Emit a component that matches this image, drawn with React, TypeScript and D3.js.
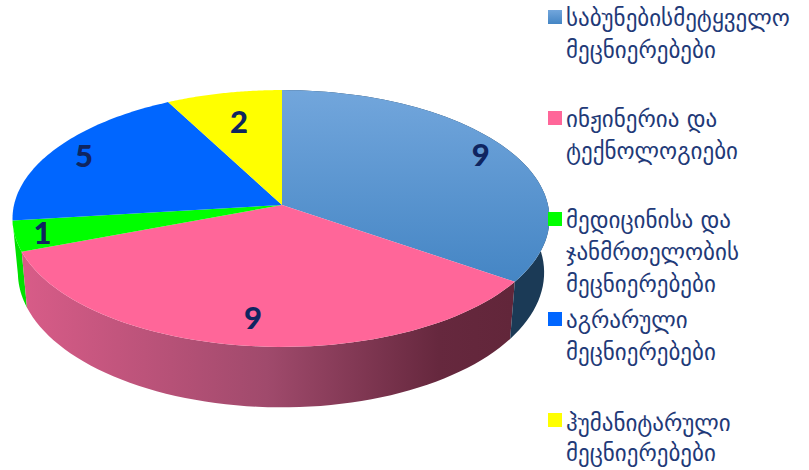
import React from "react";
import * as d3 from "d3";

const categories = ["საბუნებისმეტყველო მეცნიერებები", "ინჟინერია და ტექნოლოგიები", "მედიცინისა და ჯანმრთელობის მეცნიერებები", "აგრარული მეცნიერებები", "ჰუმანიტარული მეცნიერებები"];
const legendLines = [
  ["საბუნებისმეტყველო", "მეცნიერებები"],
  ["ინჟინერია და", "ტექნოლოგიები"],
  ["მედიცინისა და", "ჯანმრთელობის", "მეცნიერებები"],
  ["აგრარული", "მეცნიერებები"],
  ["ჰუმანიტარული", "მეცნიერებები"],
];
const values = [9, 9, 1, 5, 2];
const topFills = ["url(#topBlue)", "#ff6699", "#00ff00", "#0066ff", "#ffff00"];
const legendFills = ["url(#legBlue)", "#ff6699", "#00ff00", "#0066ff", "#ffff00"];
const wallFills = ["#1b3a56", "url(#wallPink)", "#00e000"];
const labelRadii = [0.88, 0.82, 0.9, 0.87, 0.72];
const legendTops = [10, 111, 212, 312, 413];
const legendTextOffsets = [16, 16, 16, 16, 18];
const legendSteps = [32, 32, 32, 32, 30];

const W = 809, H = 470;
const apexX = 282, apexY = 205, rxRight = 266, rxLeft = 268, ry = 127, persp = 0.105;
const midY = 218, wallScaleX = 0.98, wallScaleY = 1.05, wallDrop = 54;

function top(theta: number, r = 1): [number, number] {
  const sx = Math.sin(theta) * r, sy = -Math.cos(theta) * r;
  const w = 1 - persp * sy;
  return [apexX + ((sx < 0 ? rxLeft : rxRight) * sx) / w, apexY + (ry * sy) / w];
}
function bottom(theta: number): [number, number] {
  const [x, y] = top(theta);
  return [apexX + (x - apexX) * wallScaleX, midY + (y - midY) * wallScaleY + wallDrop];
}
const line = d3.line();
const sweep = (a: number, b: number) => d3.range(0, 61).map((i) => a + ((b - a) * i) / 60);

export default function App() {
  const arcs = d3.pie<number>().sort(null).value((d) => d)(values);
  return (
    <svg width={W} height={H} style={{ position: "absolute", left: 0, top: 0, background: "#fff" }}>
      <defs>
        <linearGradient id="topBlue" gradientUnits="userSpaceOnUse" x1="0" y1="90" x2="0" y2="285">
          <stop offset="0" stopColor="#72a6dc" />
          <stop offset="1" stopColor="#4485c4" />
        </linearGradient>
        <linearGradient id="legBlue" x1="0" y1="0" x2="0" y2="1">
          <stop offset="0" stopColor="#72a6dc" />
          <stop offset="1" stopColor="#4485c4" />
        </linearGradient>
        <linearGradient id="wallPink" gradientUnits="userSpaceOnUse" x1="22" y1="0" x2="512" y2="0">
          <stop offset="0" stopColor="#d85c88" />
          <stop offset="0.5" stopColor="#a04a6c" />
          <stop offset="0.85" stopColor="#66283e" />
          <stop offset="1" stopColor="#62263a" />
        </linearGradient>
      </defs>
      {arcs.slice(0, 3).reverse().map((a) => {
        const t = sweep(a.startAngle, a.endAngle);
        const pts = [...t.map((v) => top(v)), ...t.slice().reverse().map((v) => bottom(v))];
        return <path key={a.index} d={line(pts) + "Z"} fill={wallFills[a.index]} />;
      })}
      {arcs.map((a) => {
        const pts: [number, number][] = [[apexX, apexY], ...sweep(a.startAngle, a.endAngle).map((v) => top(v))];
        return <path key={a.index} d={line(pts) + "Z"} fill={topFills[a.index]} />;
      })}
      {arcs.map((a) => {
        const [x, y] = top((a.startAngle + a.endAngle) / 2, labelRadii[a.index]);
        return (
          <text key={a.index} x={x} y={y} dy="0.36em" textAnchor="middle" fontFamily="Lato, sans-serif" fontWeight="900" fontSize={31} fill="#0f2560">
            {values[a.index]}
          </text>
        );
      })}
      {categories.map((c, i) => (
        <g key={c}>
          <rect x={548} y={legendTops[i]} width={14} height={14} fill={legendFills[i]} />
          {legendLines[i].map((l, j) => (
            <text key={j} x={566} y={legendTops[i] + legendTextOffsets[i] + j * legendSteps[i]} fontFamily="'DejaVu Sans', sans-serif" fontSize={23} fill="#1f3a78">
              {l}
            </text>
          ))}
        </g>
      ))}
    </svg>
  );
}
